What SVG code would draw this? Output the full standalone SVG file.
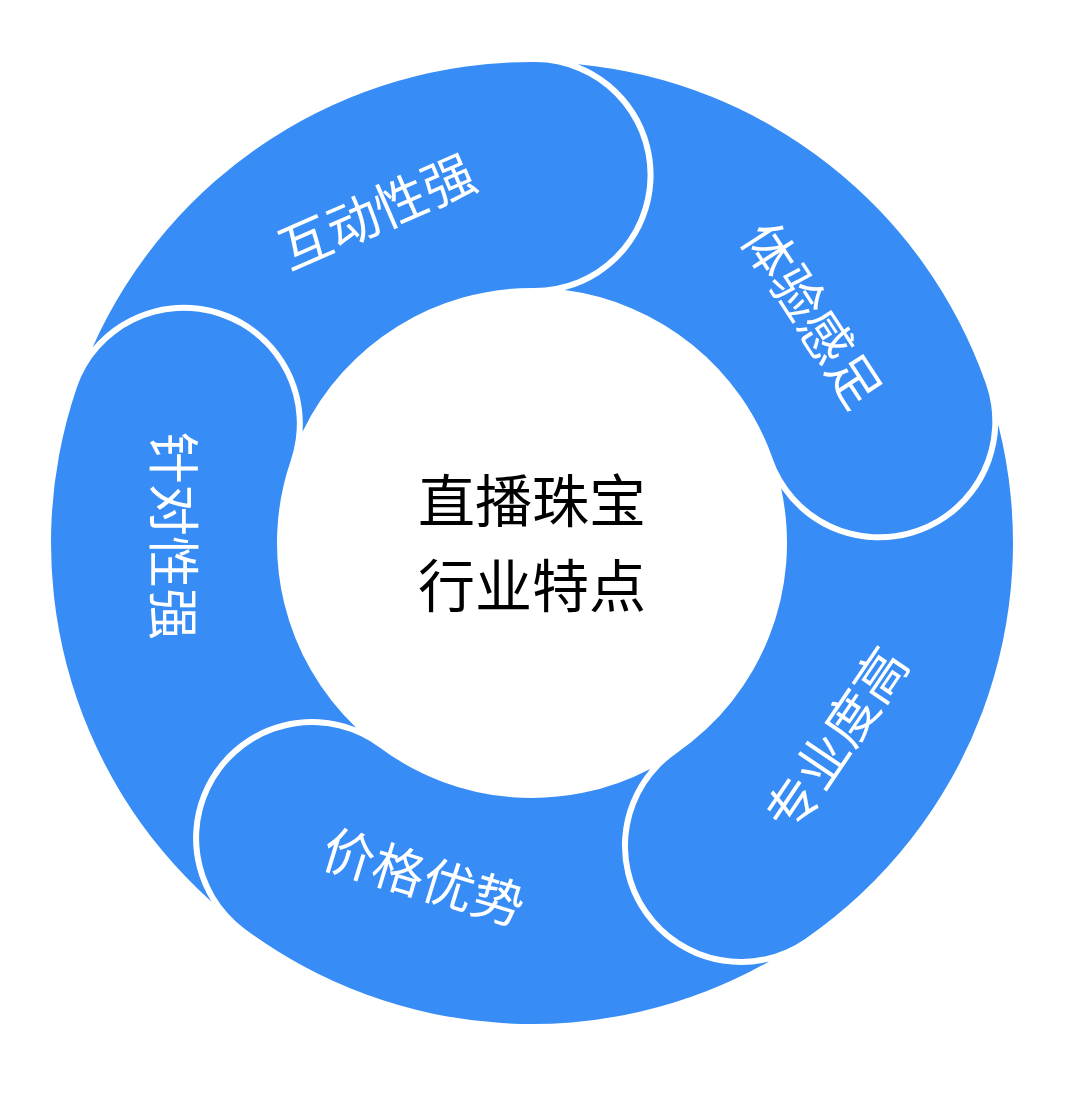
<svg xmlns="http://www.w3.org/2000/svg" width="1080" height="1094" viewBox="0 0 1080 1094">
<style>
.seg{fill:#378DF5;stroke:none}
.lbl{font-family:"Noto Sans CJK SC","Noto Sans",sans-serif;font-size:52px;fill:#FFFFFF;text-anchor:middle}
.ctr{font-family:"Noto Sans CJK SC","Noto Sans",sans-serif;font-size:57px;fill:#000000;text-anchor:middle}
</style>
<rect width="1080" height="1094" fill="#FFFFFF"/>
<g id="node-hudong">
<path class="seg" d="M92.53,347.49 A481,481 0 0 1 535.36,62.01 A113,113 0 0 1 647.57,175.80 A113,113 0 0 1 533.78,288.01 A255,255 0 0 0 302.57,431.70 A119,119 0 0 0 92.53,347.49 Z"/>
<text class="lbl" transform="translate(377,211.5) rotate(-23.5)" y="19">互动性强</text>
</g>
<g id="node-tiyan">
<path class="seg" d="M577.96,64.20 A481,481 0 0 1 985.97,384.02 A113,113 0 0 1 916.67,528.02 A113,113 0 0 1 772.67,458.72 A255,255 0 0 0 564.75,290.11 A119,119 0 0 0 577.96,64.20 Z"/>
<text class="lbl" transform="translate(811.5,315) rotate(57)" y="19">体验感足</text>
</g>
<g id="node-zhuanye">
<path class="seg" d="M998.27,424.87 A481,481 0 0 1 805.13,938.93 A113,113 0 0 1 647.96,910.09 A113,113 0 0 1 676.80,752.90 A255,255 0 0 0 781.13,488.59 A119,119 0 0 0 998.27,424.87 Z"/>
<text class="lbl" transform="translate(837,739.5) rotate(-56)" y="19">专业度高</text>
</g>
<g id="node-jiage">
<path class="seg" d="M768.98,961.57 A481,481 0 0 1 244.54,928.65 A113,113 0 0 1 221.47,770.52 A113,113 0 0 1 379.61,747.45 A255,255 0 0 0 650.22,768.94 A119,119 0 0 0 768.98,961.57 Z"/>
<text class="lbl" transform="translate(423.7,877.8) rotate(17)" y="19">价格优势</text>
</g>
<g id="node-zhendui">
<path class="seg" d="M211.50,901.67 A481,481 0 0 1 76.93,387.20 A113,113 0 0 1 220.44,316.89 A113,113 0 0 1 290.75,460.40 A255,255 0 0 0 355.89,727.42 A119,119 0 0 0 211.50,901.67 Z"/>
<text class="lbl" transform="translate(173,536) rotate(90)" y="19">针对性强</text>
</g>
<g id="node-center">
<text class="ctr" x="532" y="522">直播珠宝</text>
<text class="ctr" x="532" y="607">行业特点</text>
</g>
</svg>
